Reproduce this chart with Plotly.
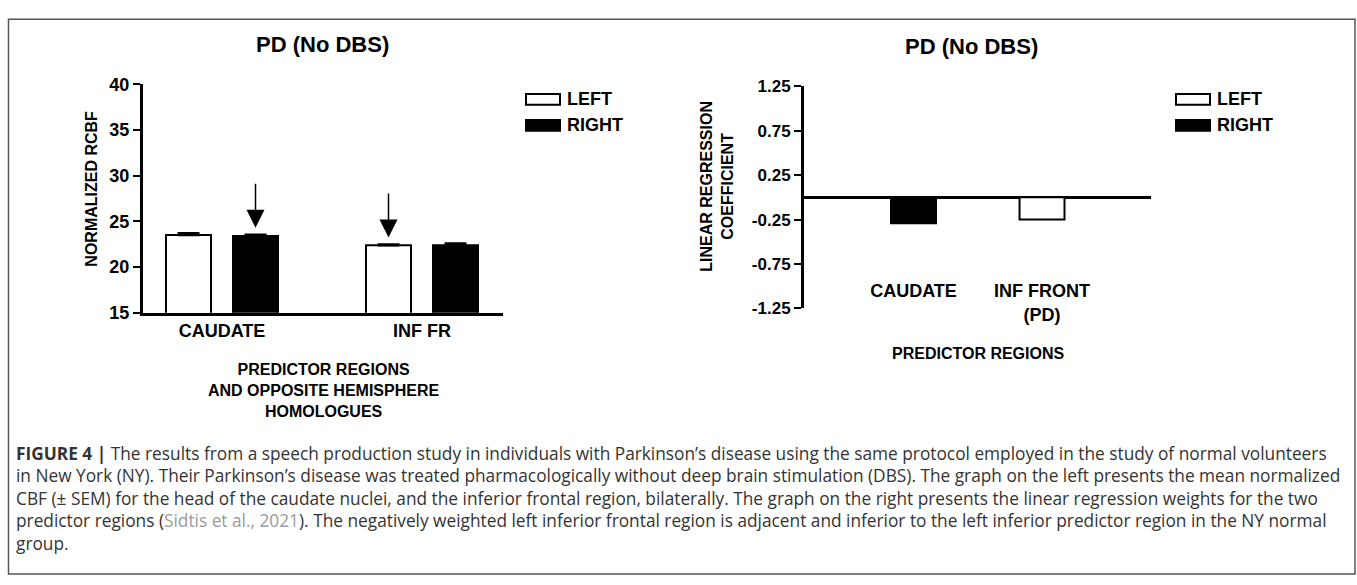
import plotly.graph_objects as go

W, H = 1357, 585

# ---------------- data ----------------
series_names = ["LEFT", "RIGHT"]

left_categories = ["CAUDATE", "INF FR"]
left_mean_left = [23.5, 22.4]
left_mean_right = [23.4, 22.4]
left_sem_left = [0.2, 0.08]
left_sem_right = [0.15, 0.18]
left_ticks = [15, 20, 25, 30, 35, 40]
highlight = [("CAUDATE", "RIGHT"), ("INF FR", "LEFT")]

right_categories = ["CAUDATE", "INF FRONT<br>(PD)"]
right_coef_left = [None, -0.25]
right_coef_right = [-0.29, None]
right_ticks = [-1.25, -0.75, -0.25, 0.25, 0.75, 1.25]
right_tick_text = ["-1.25", "-0.75", "-0.25", "0.25", "0.75", "1.25"]

caption_lines = [
    "<b>FIGURE 4 |</b> The results from a speech production study in individuals with Parkinson\u2019s disease using the same protocol employed in the study of normal volunteers",
    "in New York (NY). Their Parkinson\u2019s disease was treated pharmacologically without deep brain stimulation (DBS). The graph on the left presents the mean normalized",
    "CBF (\u00b1 SEM) for the head of the caudate nuclei, and the inferior frontal region, bilaterally. The graph on the right presents the linear regression weights for the two",
    "predictor regions (<span style='color:#9a9a9a'>Sidtis et al., 2021</span>). The negatively weighted left inferior frontal region is adjacent and inferior to the left inferior predictor region in the NY normal",
    "group.",
]

# ---------------- helpers ----------------
def px(x):
    return x / W

def py(y):
    return 1 - y / H

FONT = "Liberation Sans, Arial, sans-serif"
CAP_FONT = "Open Sans, Liberation Sans, sans-serif"
def bfont(size):
    return dict(family=FONT, size=size, color="black", weight="bold")

fills = {"LEFT": "white", "RIGHT": "black"}

fig = go.Figure()

# ---------------- left chart ----------------
left_w = 0.225
left_off = {"LEFT": -0.28, "RIGHT": 0.055}
left_vals = {"LEFT": left_mean_left, "RIGHT": left_mean_right}
left_sems = {"LEFT": left_sem_left, "RIGHT": left_sem_right}
for name in series_names:
    fig.add_trace(go.Bar(
        x=left_categories, y=left_vals[name], name=name,
        width=left_w, offset=left_off[name],
        marker=dict(color=fills[name], line=dict(color="black", width=2)),
        error_y=dict(type="data", array=left_sems[name], arrayminus=[0] * len(left_categories),
                     symmetric=False, color="black", thickness=2.5, width=11),
        xaxis="x", yaxis="y", showlegend=False,
    ))

# arrows pointing at highlighted bars
for cat, name in highlight:
    i = left_categories.index(cat)
    xc = i + left_off[name] + left_w / 2
    tip = left_vals[name][i] + left_sems[name][i] + 0.75
    fig.add_annotation(x=xc, y=tip, ax=xc, ay=tip + 5, xref="x", yref="y", axref="x", ayref="y",
                       showarrow=True, arrowhead=2, arrowsize=2.4, arrowwidth=1.5,
                       arrowcolor="black", text="")

# ---------------- right chart ----------------
right_vals = {"LEFT": right_coef_left, "RIGHT": right_coef_right}
for name in series_names:
    fig.add_trace(go.Bar(
        x=right_categories, y=right_vals[name], name=name,
        width=0.35, offset=-0.175,
        marker=dict(color=fills[name], line=dict(color="black", width=2)),
        xaxis="x2", yaxis="y2", showlegend=False,
    ))

fig.update_layout(
    width=W, height=H, margin=dict(l=0, r=0, t=0, b=0),
    paper_bgcolor="white", plot_bgcolor="white",
    barmode="overlay",
    xaxis=dict(domain=[px(143), px(503)], anchor="y", type="category",
               range=[-0.395, 1.405], showline=True, linewidth=3, linecolor="black",
               ticks="", tickfont=bfont(18), showgrid=False, zeroline=False),
    yaxis=dict(domain=[py(313.5), py(77)], anchor="x", range=[15, 40], tickvals=left_ticks,
               showline=True, linewidth=3, linecolor="black", ticks="outside", ticklen=7,
               tickwidth=2, tickcolor="black", tickfont=bfont(18), showgrid=False, zeroline=False),
    xaxis2=dict(domain=[px(804), px(1151)], anchor="free", position=py(278), type="category",
                range=[-0.852, 1.848], showline=False, ticks="", tickfont=bfont(18),
                showgrid=False, zeroline=False),
    yaxis2=dict(domain=[py(309), py(79)], anchor="x2", range=[-1.25, 1.25],
                tickvals=right_ticks, ticktext=right_tick_text,
                showline=True, linewidth=3, linecolor="black", ticks="outside", ticklen=7,
                tickwidth=2, tickcolor="black", tickfont=bfont(17), showgrid=False,
                zeroline=True, zerolinewidth=3, zerolinecolor="black"),
)

# titles and axis titles
ann = [
    dict(text="PD (No DBS)", x=px(322), y=py(36), font=bfont(22)),
    dict(text="PD (No DBS)", x=px(971), y=py(38), font=bfont(22)),
    dict(text="NORMALIZED RCBF", x=px(92), y=py(185), textangle=-90, font=bfont(16)),
    dict(text="LINEAR REGRESSION<br>COEFFICIENT", x=px(717), y=py(183), textangle=-90, font=bfont(16)),
    dict(text="PREDICTOR REGIONS<br>AND OPPOSITE HEMISPHERE<br>HOMOLOGUES", x=px(323), y=py(394), font=bfont(16)),
    dict(text="PREDICTOR REGIONS", x=px(978), y=py(356), font=bfont(16)),
]
for a in ann:
    fig.add_annotation(xref="paper", yref="paper", showarrow=False, xanchor="center", yanchor="middle", **a)

# legends (custom boxes)
shapes = []
for lx in (526, 1176):
    for k, name in enumerate(series_names):
        y0 = 87 + k * 27
        shapes.append(dict(type="rect", xref="paper", yref="paper",
                           x0=px(lx), x1=px(lx + 34), y0=py(y0), y1=py(y0 + 11),
                           fillcolor=fills[name], line=dict(color="black", width=2)))
        fig.add_annotation(xref="paper", yref="paper", x=px(lx + 39), y=py(y0 + 5.5),
                           text=name, showarrow=False, xanchor="left", yanchor="middle",
                           font=bfont(18))

# outer frame
shapes.append(dict(type="rect", xref="paper", yref="paper", x0=px(8.5), x1=px(1355),
                   y0=py(584), y1=py(9.5), line=dict(color="#555555", width=1.5)))
fig.update_layout(shapes=shapes)

# caption (one text block)
fig.add_annotation(xref="paper", yref="paper", x=px(14), y=py(506),
                   text="<br>".join(caption_lines), showarrow=False,
                   xanchor="left", yanchor="middle", align="left",
                   font=dict(family=CAP_FONT, size=17.3, color="#333333"))

fig.write_html("out.html", config={"displayModeBar": False},
               post_script="document.body.style.margin='0px';document.body.style.overflow='hidden';")
